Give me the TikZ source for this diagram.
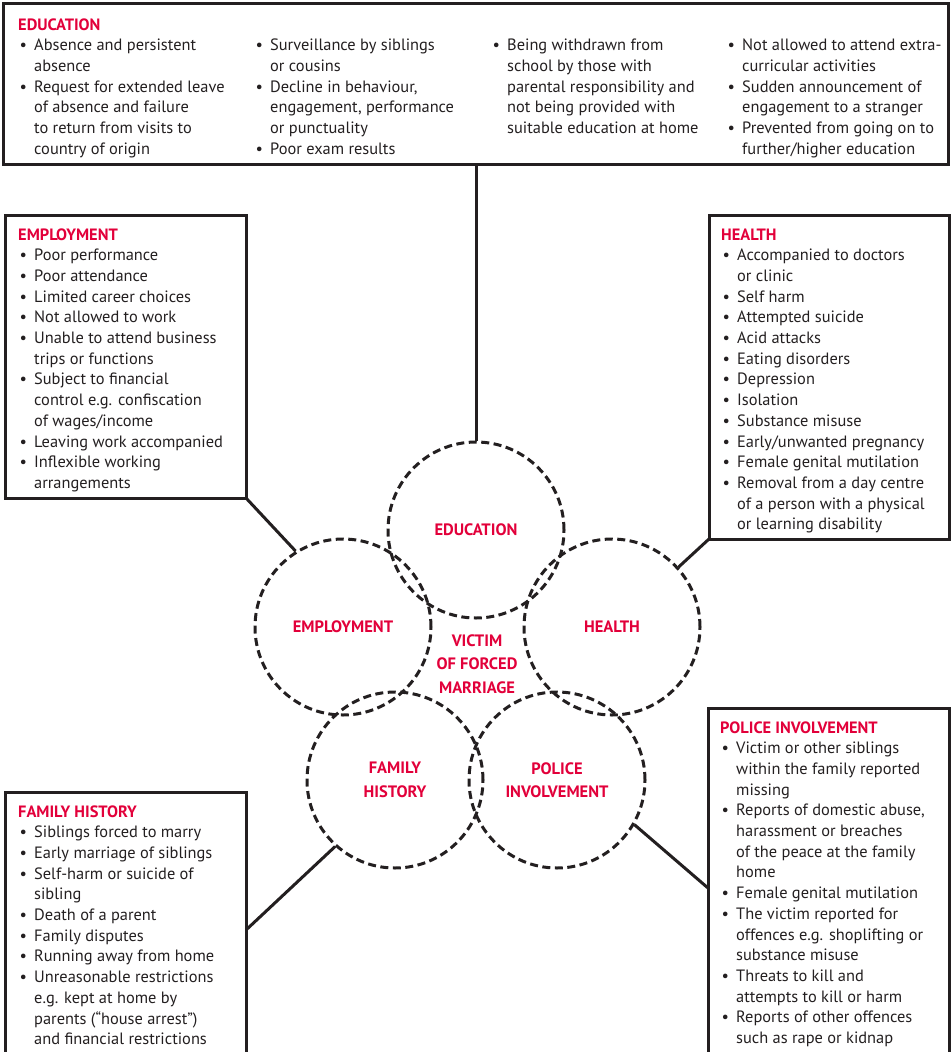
\documentclass[tikz,border=0pt]{standalone}
\usepackage{fontspec}
\setmainfont{PT Sans}
\usetikzlibrary{positioning}
\definecolor{fmred}{RGB}{226,0,58}
\definecolor{ink}{RGB}{35,31,32}
\newcommand\itm{\makebox[16pt][l]{\hspace{1.5pt}\textbullet}}
\newcommand\cnt{\hspace*{16pt}}
\newcommand\hd[1]{{\color{fmred}\bfseries #1}}

\begin{document}
\begin{tikzpicture}[x=1pt,y=-1pt,
  box/.style={draw=ink, line width=3pt, inner sep=0pt, outer sep=0pt, anchor=north west},
  txt/.style={text=ink, align=left, inner sep=0pt, anchor=base west, font=\fontsize{16.4pt}{20.7pt}\selectfont},
  ring/.style={circle, draw=ink, line width=3pt, dash pattern=on 8pt off 4.5pt, minimum size=176pt, inner sep=0pt, align=center, text=fmred, font=\fontsize{16.5pt}{23.5pt}\selectfont\bfseries},
  link/.style={draw=ink, line width=3pt}]
\useasboundingbox (0,0) rectangle (952,1052);

% boxes
\node[box, minimum width=945pt, minimum height=160.5pt] (edubox) at (3.5,3.5) {};
\node[box, minimum width=241pt, minimum height=283pt] (empbox) at (5,215) {};
\node[box, minimum width=240pt, minimum height=324pt] (healbox) at (709,215) {};
\node[box, minimum width=241pt, minimum height=320pt] (fambox) at (5,792) {};
\node[box, minimum width=241pt, minimum height=400pt] (polbox) at (708,708) {};

% box texts (placed at the baseline of their last line)
\node[txt] (edutext) at (18,154.2) {\hd{EDUCATION}\\
\itm Absence and persistent\\ \cnt absence\\
\itm Request for extended leave\\ \cnt of absence and failure\\ \cnt to return from visits to\\ \cnt country of origin};
\node[txt] (educol2) at (254,154.2) {\itm Surveillance by siblings\\ \cnt or cousins\\
\itm Decline in behaviour,\\ \cnt engagement, performance\\ \cnt or punctuality\\
\itm Poor exam results};
\node[txt] (educol3) at (491,133.5) {\itm Being withdrawn from\\ \cnt school by those with\\ \cnt parental responsibility and\\ \cnt not being provided with\\ \cnt suitable education at home};
\node[txt] (educol4) at (726,154.2) {\itm Not allowed to attend extra-\\ \cnt curricular activities\\
\itm Sudden announcement of\\ \cnt engagement to a stranger\\
\itm Prevented from going on to\\ \cnt further/higher education};

\node[txt] (emptext) at (18,488.4) {\hd{EMPLOYMENT}\\
\itm Poor performance\\
\itm Poor attendance\\
\itm Limited career choices\\
\itm Not allowed to work\\
\itm Unable to attend business\\ \cnt trips or functions\\
\itm Subject to financial\\ \cnt control e.g. confiscation\\ \cnt of wages/income\\
\itm Leaving work accompanied\\
\itm Inflexible working\\ \cnt arrangements};

\node[txt] (healtext) at (721,529.8) {\hd{HEALTH}\\
\itm Accompanied to doctors\\ \cnt or clinic\\
\itm Self harm\\
\itm Attempted suicide\\
\itm Acid attacks\\
\itm Eating disorders\\
\itm Depression\\
\itm Isolation\\
\itm Substance misuse\\
\itm Early/unwanted pregnancy\\
\itm Female genital mutilation\\
\itm Removal from a day centre\\ \cnt of a person with a physical\\ \cnt or learning disability};

\node[txt] (famtext) at (18,1044.7) {\hd{FAMILY HISTORY}\\
\itm Siblings forced to marry\\
\itm Early marriage of siblings\\
\itm Self-harm or suicide of\\ \cnt sibling\\
\itm Death of a parent\\
\itm Family disputes\\
\itm Running away from home\\
\itm Unreasonable restrictions\\ \cnt e.g. kept at home by\\ \cnt parents (“house arrest”)\\ \cnt and financial restrictions};

\node[txt] (poltext) at (720,1043.5) {\hd{POLICE INVOLVEMENT}\\
\itm Victim or other siblings\\ \cnt within the family reported\\ \cnt missing\\
\itm Reports of domestic abuse,\\ \cnt harassment or breaches\\ \cnt of the peace at the family\\ \cnt home\\
\itm Female genital mutilation\\
\itm The victim reported for\\ \cnt offences e.g. shoplifting or\\ \cnt substance misuse\\
\itm Threats to kill and\\ \cnt attempts to kill or harm\\
\itm Reports of other offences\\ \cnt such as rape or kidnap};

% circles
\node[ring] (educ) at (476,530) {EDUCATION};
\node[ring] (empc) at (343,627) {EMPLOYMENT};
\node[ring] (healc) at (612,627) {HEALTH};
\node[ring] (famc) at (395,780) {FAMILY\\HISTORY};
\node[ring] (polc) at (557,780) {POLICE\\INVOLVEMENT};
\node[text=fmred, align=center, font=\fontsize{16.5pt}{23.5pt}\selectfont\bfseries] (victim) at (477,664) {VICTIM\\OF FORCED\\MARRIAGE};

% connectors
\coordinate (famjoin) at ([yshift=-138pt]fambox.north east);
\coordinate (poljoin) at ([yshift=-180pt]polbox.north west);
\draw[link] (edubox.south) -- (educ.north);
\draw[link] (empbox.south east) -- (empc.122);
\draw[link] (healbox.south west) -- (healc.42);
\draw[link] (famjoin) -- (famc.228);
\draw[link] (poljoin) -- (polc.-30);

\end{tikzpicture}
\end{document}
